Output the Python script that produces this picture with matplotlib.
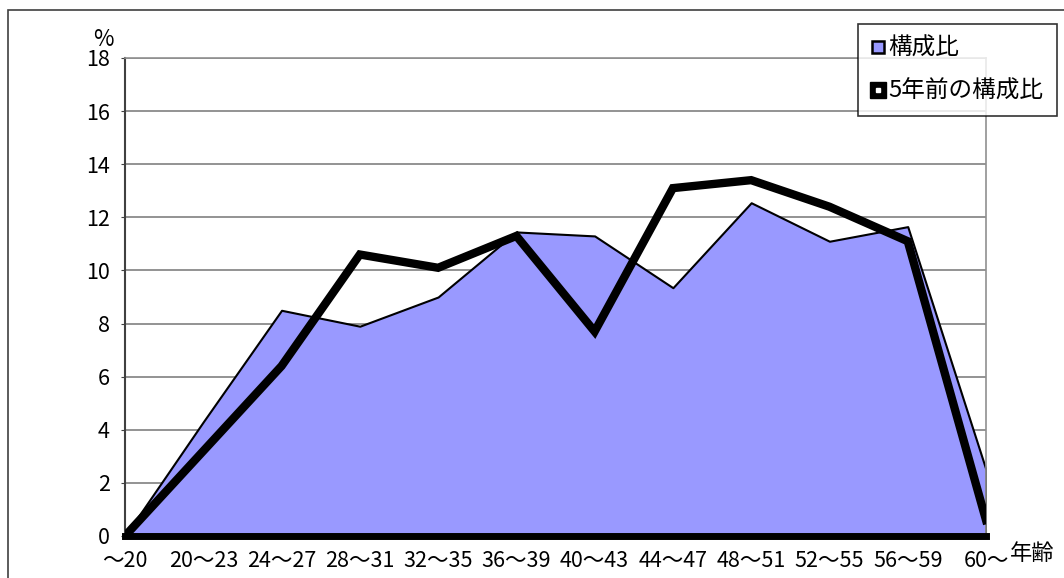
import numpy as np
import matplotlib.pyplot as plt
from matplotlib.lines import Line2D
from matplotlib.patches import Rectangle

plt.rcParams['font.family'] = ['Noto Sans CJK JP', 'DejaVu Sans']

# データ
age_labels = ["～20", "20～23", "24～27", "28～31", "32～35", "36～39",
              "40～43", "44～47", "48～51", "52～55", "56～59", "60～"]
ratio_now = [0.0, 4.3, 8.5, 7.9, 9.0, 11.45, 11.3, 9.35, 12.55, 11.1, 11.65, 2.5]
ratio_5y = [0.0, 3.2, 6.4, 10.6, 10.1, 11.3, 7.7, 13.1, 13.4, 12.4, 11.1, 0.6]

x = np.arange(len(age_labels))

fig = plt.figure(figsize=(10.64, 5.78), dpi=100)
fig.patches.append(Rectangle((8 / 1064, -0.1), 1.2, 1 - 10 / 578 + 0.1,
                             transform=fig.transFigure, fill=False,
                             edgecolor="#404040", linewidth=1.2))
ax = fig.add_axes([125 / 1064, 42 / 578, 861 / 1064, 478 / 578])

# 構成比 (面グラフ)
ax.fill_between(x, 0, ratio_now, facecolor="#9999FF", edgecolor="black",
                linewidth=1.5, zorder=2)
# 5年前の構成比 (折れ線)
ax.plot(x, ratio_5y, color="black", linewidth=6, solid_joinstyle="miter", zorder=3)

ax.set_xlim(0, len(age_labels) - 1)
ax.set_ylim(0, 18)
ax.set_yticks(range(0, 19, 2))
ax.set_xticks(x)
ax.set_xticklabels(age_labels, fontsize=15.5)
ax.tick_params(axis="y", labelsize=15.5, length=3, color="#404040", pad=8)
ax.tick_params(axis="x", direction="in", length=5, color="#808080", pad=10)

ax.yaxis.grid(True, color="#808080", linewidth=1.2, zorder=0)
ax.set_axisbelow(True)

ax.spines["left"].set_color("#404040")
ax.spines["left"].set_linewidth(1.5)
ax.spines["top"].set_color("#909090")
ax.spines["right"].set_color("#909090")
ax.spines["top"].set_linewidth(1.2)
ax.spines["right"].set_linewidth(1.2)
ax.spines["bottom"].set_color("black")
ax.spines["bottom"].set_linewidth(5)
ax.spines["bottom"].set_zorder(4)

fig.text(103 / 1064, 1 - 40 / 578, "%", fontsize=16, ha="center", va="center")
fig.text(1032 / 1064, 1 - 554 / 578, "年齢", fontsize=16, ha="center", va="center")

h1 = Line2D([], [], linestyle="none", marker="s", markersize=9,
            markerfacecolor="#9999FF", markeredgecolor="black", markeredgewidth=1.8)
h2a = Line2D([], [], linestyle="none", marker="s", markersize=12,
             markerfacecolor="black", markeredgecolor="black")
h2b = Line2D([], [], linestyle="none", marker="s", markersize=3,
             markerfacecolor="white", markeredgecolor="white")
leg = fig.legend([h1, (h2a, h2b)], ["構成比", "5年前の構成比"],
                 loc="upper left", bbox_to_anchor=(858 / 1064, 1 - 24 / 578),
                 fontsize=17, frameon=True, fancybox=False, shadow=False,
                 edgecolor="black", handlelength=0.6, handletextpad=0.15,
                 labelspacing=0.85, borderpad=0.55, borderaxespad=0)
leg.get_frame().set_linewidth(1.2)

fig.savefig("out.png", dpi=100)
